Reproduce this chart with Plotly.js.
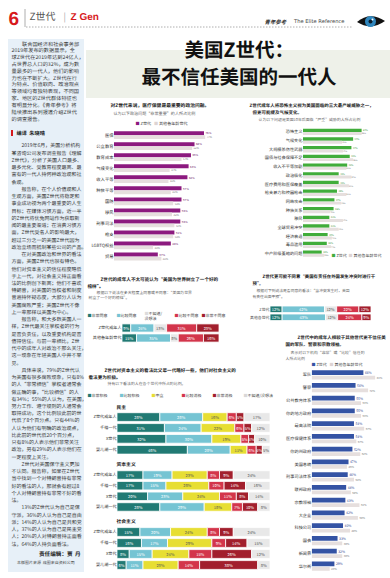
<!DOCTYPE html>
<html><head><meta charset="utf-8">
<script src="https://cdn.plot.ly/plotly-3.0.1.min.js"></script>
<style>
html,body{margin:0;padding:0;background:#fff;overflow:hidden}
#chart{width:780px;height:1156px;transform:scale(0.5);transform-origin:0 0}
#chart svg, #chart svg text{text-rendering:geometricPrecision !important}
</style>
</head><body><div id="chart"></div>
<script>
// ================= DATA =================
const issueCats = ['医保','公立教育','教育成本','气候变化','收入平等','种族平等','国防','移民','刑事司法','枪支','LGBTQ权益','贸易'];
const issueGenZ = [76,68,65,63,62,57,57,56,56,51,48,37];
const issueOthers = [77,66,57,47,46,48,50,49,51,50,33,40];

const threatCats = ['恐怖主义','气候变化','大规模杀伤性武器','国债与社会保障不足','收入不平等加剧','政治极化','医疗费用和医保覆盖','枪支暴力和校园枪击','网络攻击','种族关系','移民','全球贸易冲突','经济衰退','毒品滥用','中产阶级萎缩的问题'];
const threatGenZ = [69,59,57,55,52,42,42,40,37,36,31,31,29,28,22];
const threatOthers = [69,46,47,59,51,57,54,51,45,32,47,42,34,33,25];

const agreeSeries = ['非常同意','比较同意','不知道/没想法','比较不同意','非常不同意'];
const modelRows = ['Z世代成年人','其他各年龄世代'];
const modelStrongAgree = [9,15];
const modelAgree = [24,35];
const modelUnsure = [13,8];
const modelDisagree = [31,26];
const modelStrongDisagree = [23,16];

const interveneRows = ['Z世代','其他各世代'];
const interveneStrongAgree = [12,12];
const interveneAgree = [42,43];
const interveneUnsure = [12,12];
const interveneDisagree = [22,24];
const interveneStrongDisagree = [12,9];

const viewSeries = ['非常积极','比较积极','中立','比较消极','非常消极','不知道/没想法'];
const genRows = ['Z世代成年人','千禧一代','X世代','婴儿潮一代'];
const groupNames = ['民主','资本主义','社会主义'];
const demVeryPos = [28,31,32,46];
const demPos = [28,24,30,28];
const demNeutral = [16,22,19,11];
const demNeg = [6,6,5,6];
const demVeryNeg = [5,5,4,4];
const demUnsure = [17,12,10,5];
const capVeryPos = [17,17,20,28];
const capPos = [19,15,23,29];
const capNeutral = [23,28,24,18];
const capNeg = [8,10,11,7];
const capVeryNeg = [9,14,8,10];
const capUnsure = [24,16,14,8];
const socVeryPos = [15,16,8,6];
const socPos = [20,17,15,11];
const socNeutral = [24,29,24,23];
const socNeg = [8,9,15,14];
const socVeryNeg = [9,14,26,38];
const socUnsure = [24,15,12,8];

const trustCats = ['军队','警察','公共教育体系','你的地方政府','最高法院','医疗保健体系','你的州政府','美国总统','刑事司法体系','联邦政府','宗教领袖','大企业','科技公司','国会','新闻界','华尔街'];
const trustGenZ = [66,56,55,55,54,54,52,47,46,44,43,42,40,33,32,29];
const trustOthers = [81,72,63,63,67,57,62,45,54,50,61,59,49,39,39,23];

const introText = '联合国经济和社会事务部2019年发布的数据显示，全球Z世代在2019年达到24亿人，占世界总人口的32%，成为数量最多的一代人，他们的影响力也在不断扩大。Z世代在行为特点、价值取向、政治观点等领域均有独特表现，不同国家、地区的Z世代群体特征也有明显分化。《青年参考》将陆续推出系列报道介绍Z世代的调查报告。';
const articleParas = [
 '2019年6月，美国分析机构某咨询公司发布调查报告《理解Z世代》，分析了美国人口最多、最多元化、受教育程度最高、最富有的一代人持何种政治观和社会观。',
 '报告称，在个人价值观和人生观方面，美国Z世代将稳定和事业成功视为两个最重要的人生目标；在媒体习惯方面，近一半的Z世代将优兔网站作为获取新闻的最主要渠道；在消费习惯方面，Z世代受名人的影响最大，超过三分之一的美国Z世代因为政治立场而抵制某些公司的产品。',
 '在对美国政治和世界的看法方面，美国Z世代也很有特色。他们对资本主义的信任程度略低于上一代，对社会主义持正面看法的比例创下新高；他们不喜欢特朗普，对美国的当权者和制度普遍持怀疑态度，大部分人认为美国腐败严重；美国Z世代不像上一辈那样以美国为中心。',
 '报告称，和大多数美国人一样，Z世代最关注掌权者的行为是否负责任，以及重要机构是否值得信任。与前一辈相比，Z世代中的成年人对政治不那么关注，这一现象在年轻美国人中并不罕见。',
 '具体来说，79%的Z世代认为美国有很多腐败现象，只有8%的人“非常相信”掌权者通常会做正确的事，“比较相信”的人有34%；55%的人认为，在美国，努力工作、遵守规则的人通常会取得成功，这个比例较此前的世代低了8个百分点。只有44%的人认为他们有明确的政治观点，比此前的世代低20个百分点，只有8%的人表示他们非常关注政治，另有29%的人表示他们在一定程度上关注。',
 'Z世代对美国保守主义更加不认同。报告称，如果在Z世代当中找到一个对特朗普持有非常好的看法的人，那就会有超过8个人对特朗普持有非常不好的看法。',
 '13%的Z世代认为自己是保守派，36%的人认为自己是自由派；14%的人认为自己是共和党人，37%的人认为自己是民主党人；20%的人对特朗普持正面看法，64%的人持负面看法。'
];

// ================= HELPERS =================
const W = 390, H = 578, S = 2;   // drawn at 2x, shown at half size
const FONT = '"Noto Sans CJK SC","Noto Sans",sans-serif';
const px = v => v / W;
const py = v => 1 - v / H;

const COL = {
  purple:'#8c1a7f', green:'#41ad3b', blue:'#3453a4', pale:'#e6dfde',
  dteal:'#217a74', lteal:'#75c4d3', neutral:'#e8e8e8', red:'#d3354b', dred:'#a21f2d', yellow:'#e7de33'
};

const layout = {
  width:W*S, height:H*S, margin:{l:0,r:0,t:0,b:0,pad:0},
  paper_bgcolor:'#ffffff', plot_bgcolor:'rgba(0,0,0,0)',
  barmode:'overlay', showlegend:false,
  font:{family:FONT, size:5*S, color:'#333'},
  annotations:[], shapes:[]
};
const data = [];

function T(text, x, y, o) {
  o = o || {};
  layout.annotations.push({
    text:text, x:px(x), y:py(y), xref:'paper', yref:'paper', showarrow:false,
    xanchor:o.xa || 'left', yanchor:o.ya || 'middle', align:o.align || 'left',
    borderpad:0,
    font:{size:(o.s || 4.6)*S, color:o.c || '#333', family:o.f || FONT}
  });
}
function rect(x0,y0,x1,y1,fill,layer){
  layout.shapes.push({type:'rect', xref:'paper', yref:'paper', x0:px(x0), x1:px(x1), y0:py(y1), y1:py(y0), fillcolor:fill, line:{width:0}, layer:layer||'below'});
}
function line(x0,y0,x1,y1,color,w,dash){
  layout.shapes.push({type:'line', xref:'paper', yref:'paper', x0:px(x0), x1:px(x1), y0:py(y0), y1:py(y1), line:{color:color, width:(w||1)*S, dash:dash||'solid'}});
}
function axes(n, x0, x1, y0, y1, xmax, cats, tsize) {
  const s = n === 1 ? '' : String(n);
  layout['xaxis'+s] = {domain:[px(x0),px(x1)], range:[0,xmax], anchor:'y'+s, visible:false, fixedrange:true};
  layout['yaxis'+s] = {domain:[py(y1),py(y0)], anchor:'x'+s, type:'category', categoryorder:'array', categoryarray:cats,
    range:[cats.length-0.5,-0.5], showgrid:false, zeroline:false, showline:false, ticks:'',
    tickfont:{size:(tsize||4.3)*S, color:'#333', family:FONT}, fixedrange:true};
  return {xaxis:'x'+s, yaxis:'y'+s};
}
function hbar(ref, cats, vals, color, width, offset, tcolor, name) {
  data.push({type:'bar', orientation:'h', name:name, x:vals, y:cats, xaxis:ref.xaxis, yaxis:ref.yaxis,
    width:width, offset:offset, marker:{color:color},
    text:vals.map(v => v + '%'), textposition:'outside', textangle:0,
    textfont:{size:3.9*S, color:tcolor, family:FONT}, cliponaxis:false, hoverinfo:'skip'});
}
function stack(ref, cats, series, names, colors, tcolors, width) {
  let base = cats.map(() => 0);
  series.forEach((vals, i) => {
    data.push({type:'bar', orientation:'h', name:names[i], x:vals, y:cats, base:base.slice(),
      xaxis:ref.xaxis, yaxis:ref.yaxis, width:width,
      marker:{color:colors[i], line:{color:'#ffffff', width:0.8*S}},
      text:vals.map(v => v + '%'), textposition:'inside', insidetextanchor:'middle', textangle:0,
      constraintext:'none', textfont:{size:4*S, color:tcolors[i], family:FONT}, hoverinfo:'skip'});
    base = base.map((b, j) => b + vals[j]);
  });
}
function sq(color){ return '<span style="color:'+color+'">■</span>'; }
function wrap(text, maxW) {
  const lines = []; let cur = ''; let w = 0;
  const cw = ch => /[\x00-\x7f]/.test(ch) ? 0.56 : 1;
  const noStart = '，。、；：）》”！？%';
  for (const ch of text) {
    const c = cw(ch);
    if (w + c > maxW && !noStart.includes(ch)) { lines.push(cur); cur = ''; w = 0; }
    cur += ch; w += c;
  }
  if (cur) lines.push(cur);
  return lines;
}

// ================= PAGE DECOR =================
rect(8,39,84,572,'#e7f0f8');
rect(86,50,390,98,'#eef1e9');
// header
T('<b>6</b>', 14, 18, {xa:'center', s:19, c:'#d7191c', f:'"Liberation Sans",Arial,sans-serif'});
line(25,9,25,27,'#999',0.8);
T('Z世代', 29, 16, {s:10, c:'#555'});
T('|', 63, 16, {s:9, c:'#aaa'});
T('<b>Z Gen</b>', 70, 16, {s:10, c:'#d7191c', f:'"Liberation Sans",Arial,sans-serif'});
line(26,27,353,27,'#9a9a9a',0.8,'dot');
T('<b><i>青年参考</i></b>', 264, 21, {s:5.4, c:'#333'});
T('The Elite Reference', 293, 21, {s:5.2, c:'#444', f:'"DejaVu Sans",sans-serif'});
layout.shapes.push({type:'path', xref:'paper', yref:'paper',
  path:'M'+px(357)+','+py(22)+' Q'+px(370)+','+py(11)+' '+px(385)+','+py(21)+' Q'+px(371)+','+py(31)+' '+px(357)+','+py(22)+' Z',
  fillcolor:'#111', line:{width:0}});
layout.shapes.push({type:'circle', xref:'paper', yref:'paper', x0:px(365), x1:px(376), y0:py(27), y1:py(16), fillcolor:'#2f86bd', line:{width:0}});
layout.shapes.push({type:'circle', xref:'paper', yref:'paper', x0:px(368.5), x1:px(372.5), y0:py(23.5), y1:py(19.5), fillcolor:'#0b1d2c', line:{width:0}});
layout.shapes.push({type:'circle', xref:'paper', yref:'paper', x0:px(371.5), x1:px(373.5), y0:py(20.5), y1:py(18.5), fillcolor:'#ffffff', line:{width:0}});

// headline
T('<b>美国Z世代：</b>', 239, 48, {xa:'center', s:19.5, c:'#111'});
T('<b>最不信任美国的一代人</b>', 239, 75, {xa:'center', s:19.5, c:'#111'});

// left column text
(function(){
  const fs = 5.2;
  const il = wrap('　　' + introText, 13);
  const sp1 = (118 - 43) / (il.length - 1);
  il.forEach((l, i) => T(l.replace(/^　　/, ''), i === 0 ? 11 + 2*fs : 11, 43 + i*sp1, {s:fs, c:'#3a3a3a'}));
  rect(11,130,13,136,'#d7191c','above');
  T('<b>编译  朱晓晴</b>', 16, 133, {s:5.2, c:'#222'});
  const lines = [];
  articleParas.forEach(p => {
    wrap('　　' + p, 14).forEach(l => lines.push(l));
  });
  const sp = (543 - 145) / (lines.length - 1);
  lines.forEach((l, i) => T(l.replace(/^　　/, ''), /^　　/.test(l) ? 11 + 10 : 11, 145 + i*sp, {s:5, c:'#3a3a3a'}));
  T('<b>责任编辑：贾  丹</b>', 81, 553, {xa:'right', s:5.6, c:'#222'});
  T('本版图片来源  成图来自资料公司', 46, 562, {xa:'center', s:4, c:'#444'});
})();

// ================= CHART 1: issues (purple) =================
T('<b>对Z世代来说，医疗保健是最重要的政治问题。</b>', 110, 105, {s:4.8, c:'#222'});
T('认为以下政治问题“非常重要”的人所占比例', 113, 113, {s:4.1, c:'#666'});
T(sq(COL.purple)+' Z世代   '+sq('#ddd4d3')+' 其他各年龄世代', 135, 123, {s:4.1, c:'#444'});
const r1 = axes(1, 114, 240, 129.5, 262, 106.4, issueCats, 4.3);
hbar(r1, issueCats, issueGenZ, COL.purple, 0.36, -0.35, '#6d1764', 'Z世代');
hbar(r1, issueCats, issueOthers, COL.pale, 0.33, 0.025, '#777', '其他各年龄世代');

// ================= CHART 2: threats (green) =================
T('<b>Z世代成年人将恐怖主义视为美国面临的三大最严峻威胁之一，</b>', 249, 105, {s:4.5, c:'#222'});
T('<b>但更可能提及气候变化。</b>', 252, 111.7, {s:4.5, c:'#222'});
T('认为以下问题是美国10年后面临“严重”威胁的人所占比例', 258, 119, {s:3.9, c:'#666'});
const r2 = axes(2, 303, 390, 127.5, 258, 102.4, threatCats, 4.2);
hbar(r2, threatCats, threatGenZ, COL.green, 0.38, -0.37, '#2f8a2a', 'Z世代');
hbar(r2, threatCats, threatOthers, COL.pale, 0.34, 0.02, '#777', '其他各年龄世代');
T(sq(COL.green)+' Z世代  '+sq('#ddd4d3')+' 其他各年龄世代', 331, 254.5, {s:4, c:'#444'});

// ================= CHART 3: role model (diverging) =================
T('<b>Z世代的成年人不太可能认为“美国为世界树立了一个好的</b>', 100, 279, {s:4.6, c:'#222'});
T('<b>榜样”。</b>', 87, 286, {s:4.6, c:'#222'});
T('根据以下说法在多大程度上同意或不同意：“美国为世界', 96, 292, {s:3.9, c:'#666'});
T('树立了一个好的榜样”。', 88, 297.5, {s:3.9, c:'#666'});
T(sq(COL.dteal)+'非常同意', 87, 315, {s:4, c:'#444'});
T(sq(COL.lteal)+'比较同意', 116, 315, {s:4, c:'#444'});
T(sq('#dcdcdc')+'不知道/<br>没想法', 144, 315, {s:4, c:'#444'});
T(sq(COL.red)+'比较不同意', 174, 315, {s:4, c:'#444'});
T(sq(COL.dred)+'非常不同意', 201, 315, {s:4, c:'#444'});
const r3 = axes(3, 122, 219, 323, 343, 100, modelRows, 4.1);
stack(r3, modelRows, [modelStrongAgree, modelAgree, modelUnsure, modelDisagree, modelStrongDisagree], agreeSeries,
  [COL.dteal, COL.lteal, COL.neutral, COL.red, COL.dred], ['#fff','#fff','#555','#fff','#fff'], 0.82);

// ================= CHART 4: intervention (diverging) =================
T('<b>Z世代更可能不同意“美国有责任在外国发生冲突时进行干</b>', 262, 276, {s:4.4, c:'#222'});
T('<b>预”。</b>', 252, 282.5, {s:4.4, c:'#222'});
T('根据对下列说法是否同意的看法：“当冲突发生时，美国', 256, 290, {s:3.8, c:'#666'});
T('有责任出面干预”。', 252, 296, {s:3.8, c:'#666'});
const r4 = axes(4, 270, 371, 305.3, 321.3, 100, interveneRows, 3.9);
stack(r4, interveneRows, [interveneStrongAgree, interveneAgree, interveneUnsure, interveneDisagree, interveneStrongDisagree], agreeSeries,
  [COL.dteal, COL.lteal, COL.neutral, COL.red, COL.dred], ['#fff','#fff','#555','#fff','#fff'], 0.82);

// ================= CHART 5: views on systems (stacked) =================
T('<b>Z世代对资本主义的看法比父辈一代略好一些，他们对社会主义的</b>', 104, 370, {s:4.6, c:'#222'});
T('<b>看法更为积极。</b>', 88, 376.5, {s:4.6, c:'#222'});
T('持有以下看法的人在各个世代中所占的比例。', 107, 383, {s:3.9, c:'#666'});
const legX = [87, 119, 151, 181, 212, 243];
const viewColors = [COL.dteal, COL.lteal, COL.yellow, COL.red, COL.dred, COL.neutral];
viewSeries.forEach((s, i) => T(sq(i === 5 ? '#d8d8d8' : viewColors[i]) + s, legX[i], 395, {s:4, c:'#444'}));
const viewTextColors = ['#fff','#fff','#555','#fff','#fff','#555'];
const groupBoxes = [[411.6,455.2],[469.7,512.3],[526.5,570.5]];
const groupLabelY = [407, 464, 521];
const groupData = [
  [demVeryPos, demPos, demNeutral, demNeg, demVeryNeg, demUnsure],
  [capVeryPos, capPos, capNeutral, capNeg, capVeryNeg, capUnsure],
  [socVeryPos, socPos, socNeutral, socNeg, socVeryNeg, socUnsure]
];
groupNames.forEach((g, k) => {
  T('<b>'+g+'</b>', 116, groupLabelY[k], {s:4.8, c:'#222'});
  const r = axes(5 + k, 117, 270, groupBoxes[k][0], groupBoxes[k][1], 100, genRows, 4.1);
  stack(r, genRows, groupData[k], viewSeries, viewColors, viewTextColors, 0.8);
});

// ================= CHART 6: trust (blue) =================
T('<b>Z世代中的成年人相较于其他世代更不信任美</b>', 297, 337, {s:4.5, c:'#222'});
T('<b>国的军队、警察和宗教领袖。</b>', 285, 344, {s:4.5, c:'#222'});
T('表示对以下机构“非常”或“比较”信任的', 290, 352, {s:3.9, c:'#666'});
T('人所占比例', 285, 357.5, {s:3.9, c:'#666'});
T(sq(COL.blue)+' Z世代   '+sq('#ddd4d3')+' 其他各年龄世代', 311, 364, {s:4, c:'#444'});
const r8 = axes(8, 311.7, 390, 368.5, 572.5, 100, trustCats, 4.2);
hbar(r8, trustCats, trustGenZ, COL.blue, 0.37, -0.365, '#2b4590', 'Z世代');
hbar(r8, trustCats, trustOthers, COL.pale, 0.3, 0.06, '#777', '其他各年龄世代');

Plotly.newPlot('chart', data, layout, {staticPlot:true, displayModeBar:false});
</script>
</body></html>
